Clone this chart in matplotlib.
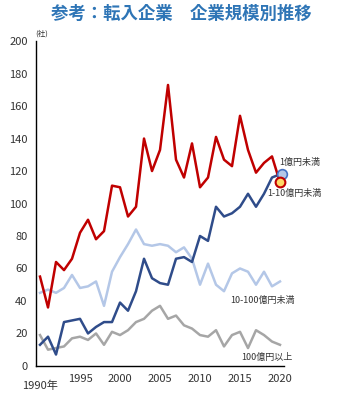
import matplotlib
matplotlib.use("Agg")
import matplotlib.pyplot as plt

plt.rcParams['font.family'] = ['Noto Sans CJK JP', 'DejaVu Sans']

years = list(range(1990, 2021))

# 1億円未満 (red)
under_1 = [55, 36, 64, 59, 66, 82, 90, 78, 83, 111, 110, 92, 98, 140, 120,
           133, 173, 127, 116, 137, 110, 116, 141, 127, 123, 154, 133, 119, 125, 129, 113]
# 1-10億円未満 (dark blue)
from_1_to_10 = [13, 18, 7, 27, 28, 29, 20, 24, 27, 27, 39, 34, 46, 66, 54,
                51, 50, 66, 67, 64, 80, 77, 98, 92, 94, 98, 106, 98, 106, 116, 118]
# 10-100億円未満 (light blue)
from_10_to_100 = [45, 47, 45, 48, 56, 48, 49, 52, 37, 58, 67, 75, 84, 75, 74,
                  75, 74, 70, 73, 66, 50, 63, 50, 46, 57, 60, 58, 50, 58, 49, 52]
# 100億円以上 (gray)
over_100 = [19, 10, 11, 12, 17, 18, 16, 20, 13, 21, 19, 22, 27, 29, 34,
            37, 29, 31, 25, 23, 19, 18, 22, 12, 19, 21, 11, 22, 19, 15, 13]

xticks = [1995, 2000, 2005, 2010, 2015, 2020]
yticks = list(range(0, 201, 20))

fig = plt.figure(figsize=(3.43, 4.03), dpi=100)
ax = fig.add_axes([0.105, 0.092, 0.723, 0.806])

ax.plot(years, over_100, color="#A6A6A6", lw=1.8)
ax.plot(years, from_10_to_100, color="#B4C7E7", lw=1.8)
ax.plot(years, from_1_to_10, color="#2F4C8A", lw=1.8)
ax.plot(years, under_1, color="#C00000", lw=1.8)

# end markers
ax.plot(years[-1] + 0.2, from_1_to_10[-1], "o", ms=7, mfc="#B4C7E7", mec="#4472C4", mew=1.2,
        clip_on=False, zorder=5)
ax.plot(years[-1], under_1[-1], "o", ms=7, mfc="#FFD966", mec="#C00000", mew=1.5,
        clip_on=False, zorder=6)

ax.set_xlim(1989.5, 2020.5)
ax.set_ylim(0, 200)
ax.set_xticks(xticks)
ax.set_xticklabels([str(x) for x in xticks], fontsize=8, color="#333333")
ax.set_yticks(yticks)
ax.set_yticklabels([str(y) for y in yticks], fontsize=8, color="#333333")
ax.tick_params(length=0, pad=6)
ax.text(1990, -9, "1990年", fontsize=8, color="#333333", ha="center", va="top")
ax.text(1990.2, 202, "(社)", fontsize=5.5, color="#333333", ha="center", va="bottom")

for s in ["top", "right"]:
    ax.spines[s].set_visible(False)
for s in ["left", "bottom"]:
    ax.spines[s].set_linewidth(1.0)
    ax.spines[s].set_color("black")

# series labels
ax.text(2022.5, 125, "1億円未満", fontsize=6.5, color="#333333", ha="center", va="center")
ax.text(2021.8, 106, "1-10億円未満", fontsize=6.5, color="#333333", ha="center", va="center")
ax.text(2017.8, 40.5, "10-100億円未満", fontsize=6.5, color="#333333", ha="center", va="center")
ax.text(2018.4, 5.5, "100億円以上", fontsize=6.5, color="#333333", ha="center", va="center")

fig.text(0.53, 0.965, "参考：転入企業　企業規模別推移", fontsize=12.5, fontweight="bold",
         color="#2E75B6", ha="center", va="center")

fig.savefig("out.png", dpi=100)
